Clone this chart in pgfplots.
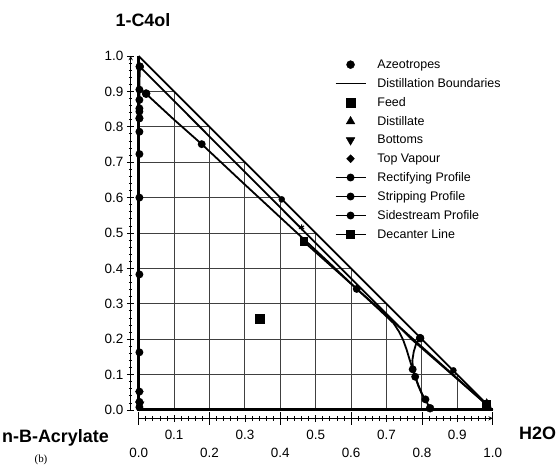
\documentclass[border=0pt]{standalone}
\usepackage{pgfplots}
\pgfplotsset{compat=1.18}
\usepackage{fontspec}
\setmainfont{Liberation Sans}
\newfontfamily\seriffont{Liberation Serif}

\begin{document}
\begin{tikzpicture}
\pgfplotsset{
  tern/.style={
    scale only axis, width=354bp, height=354bp,
    xmin=0, xmax=1, ymin=0, ymax=1,
    anchor=south west,
    clip=false,
    axis line style={-, line width=0.9bp},
    tick align=outside,
    tick style={line width=0.8bp, black},
    tick label style={font=\fontsize{13.5}{13.5}\selectfont,
      /pgf/number format/fixed, /pgf/number format/fixed zerofill,
      /pgf/number format/precision=1,
      /pgf/number format/assume math mode=true},
  },
  prof/.style={black, line width=1.8bp, mark=*, mark size=3bp, mark options={solid, fill=black}},
}
% x axis, set 8.3bp below the triangle: ticks and two rows of labels
\begin{axis}[tern, at={(0bp,-8.3bp)},
  axis y line=none, axis x line=bottom,
  xtick={0,0.2,0.4,0.6,0.8,1.0},
  extra x ticks={0.1,0.3,0.5,0.7,0.9},
  minor x tick num=9,
  major tick length=13bp, minor tick length=4.5bp,
  xticklabel style={yshift=-19.5bp},
  extra x tick style={major tick length=7.5bp,
    xticklabel style={yshift=15bp}},
]
\end{axis}
% main axis: y ticks, frame, grid and data
\begin{axis}[tern, at={(0bp,0bp)},
  axis x line=none, axis y line=left, axis y line shift=8bp,
  ytick={0,0.1,0.2,0.3,0.4,0.5,0.6,0.7,0.8,0.9,1.0},
  minor y tick num=4,
  major tick length=7.5bp, minor tick length=3.5bp,
  legend image code/.code={\draw[mark repeat=2,mark phase=2,#1] plot coordinates {(0bp,0bp) (15bp,0bp) (30bp,0bp)};},
  legend style={draw=none, fill=none, at={(axis cs:0.553,0.996)}, anchor=north west,
    inner sep=0pt, font=\fontsize{12.5}{14}\selectfont, row sep=4.5bp,
    /tikz/every odd column/.append style={column sep=9bp}},
  legend cell align=left,
]
% grid inside the triangle
\addplot[forget plot, black!75, line width=0.9bp] coordinates {(0,0.1) (0.9,0.1)};
\addplot[forget plot, black!75, line width=0.9bp] coordinates {(0,0.2) (0.8,0.2)};
\addplot[forget plot, black!75, line width=0.9bp] coordinates {(0,0.3) (0.7,0.3)};
\addplot[forget plot, black!75, line width=0.9bp] coordinates {(0,0.4) (0.6,0.4)};
\addplot[forget plot, black!75, line width=0.9bp] coordinates {(0,0.5) (0.5,0.5)};
\addplot[forget plot, black!75, line width=0.9bp] coordinates {(0,0.6) (0.4,0.6)};
\addplot[forget plot, black!75, line width=0.9bp] coordinates {(0,0.7) (0.3,0.7)};
\addplot[forget plot, black!75, line width=0.9bp] coordinates {(0,0.8) (0.2,0.8)};
\addplot[forget plot, black!75, line width=0.9bp] coordinates {(0,0.9) (0.1,0.9)};
\addplot[forget plot, black!75, line width=0.9bp] coordinates {(0.1,0) (0.1,0.9)};
\addplot[forget plot, black!75, line width=0.9bp] coordinates {(0.2,0) (0.2,0.8)};
\addplot[forget plot, black!75, line width=0.9bp] coordinates {(0.3,0) (0.3,0.7)};
\addplot[forget plot, black!75, line width=0.9bp] coordinates {(0.4,0) (0.4,0.6)};
\addplot[forget plot, black!75, line width=0.9bp] coordinates {(0.5,0) (0.5,0.5)};
\addplot[forget plot, black!75, line width=0.9bp] coordinates {(0.6,0) (0.6,0.4)};
\addplot[forget plot, black!75, line width=0.9bp] coordinates {(0.7,0) (0.7,0.3)};
\addplot[forget plot, black!75, line width=0.9bp] coordinates {(0.8,0) (0.8,0.2)};
\addplot[forget plot, black!75, line width=0.9bp] coordinates {(0.9,0) (0.9,0.1)};
% triangle frame
\addplot[forget plot, black, line width=3bp] coordinates {(0,1) (0,0) (1,0)};
\addplot[forget plot, black, line width=1.8bp] coordinates {(0,1) (1,0)};

% legend series
\addplot[black, only marks, mark=*, mark size=4bp] coordinates {
  (0.003,0.970) (0.021,0.894) (0.795,0.203) (0.983,0.015) (0.823,0.005)};
\addlegendentry{Azeotropes}
\addplot[black, line width=1.8bp] coordinates {
  (0.003,0.970) (0.773,0.198) (0.983,0.015)};
\addlegendentry{Distillation Boundaries}
\addplot[black, only marks, mark=square*, mark size=4.5bp] coordinates {(0.341,0.259)};
\addlegendentry{Feed}
\addplot[black, only marks, mark=triangle*, mark size=5bp] coordinates {(0.983,0.018)};
\addlegendentry{Distillate}
\addplot[black, only marks, mark=triangle*, mark size=5bp, mark options={rotate=180}] coordinates {(0.003,0.016)};
\addlegendentry{Bottoms}
\addplot[black, only marks, mark=diamond*, mark size=4bp, mark options={xscale=1.3}] coordinates {(0.002,0.052)};
\addlegendentry{Top Vapour}
\addplot[prof] coordinates {
  (0.003,0.970) (0.002,0.905) (0.002,0.876) (0.002,0.852) (0.002,0.843) (0.002,0.824)};
\addlegendentry{Rectifying Profile}
\addplot[prof] coordinates {
  (0.002,0.824) (0.002,0.786) (0.002,0.723) (0.002,0.600) (0.002,0.383)
  (0.002,0.163) (0.002,0.052) (0.002,0.023) (0.002,0.008)};
\addlegendentry{Stripping Profile}
\addplot[prof, mark indices={1,3,8,15,16}, legend image post style={mark indices={2}}] coordinates {
  (0.021,0.893) (0.100,0.820) (0.178,0.751) (0.290,0.646) (0.400,0.544)
  (0.467,0.482) (0.540,0.414) (0.616,0.342) (0.680,0.283) (0.720,0.245)
  (0.735,0.222) (0.747,0.198) (0.757,0.170) (0.766,0.140) (0.774,0.115)
  (0.781,0.094) (0.792,0.065) (0.803,0.040) (0.812,0.025) (0.823,0.005)};
\addlegendentry{Sidestream Profile}
\addplot[black, line width=1.8bp, mark=square*, mark size=3.5bp] coordinates {
  (0.467,0.475) (0.983,0.015)};
\addlegendentry{Decanter Line}
% second branch near the water corner and points on the edge
\addplot[prof, forget plot, mark indices={1,9}] coordinates {
  (0.795,0.203) (0.784,0.188) (0.777,0.165) (0.773,0.140) (0.775,0.115)
  (0.781,0.094) (0.790,0.068) (0.800,0.045) (0.810,0.030)};
\addplot[black, only marks, forget plot, mark=*, mark size=3bp] coordinates {
  (0.404,0.595) (0.889,0.112)};
\addplot[black, only marks, forget plot, mark=asterisk, mark size=3bp, line width=1bp] coordinates {
  (0.460,0.516) (0.781,0.094)};
\end{axis}
\node[font=\bfseries\fontsize{18}{18}\selectfont, anchor=base] at (4.3bp,383bp) {1-C4ol};
\node[font=\bfseries\fontsize{18}{18}\selectfont, anchor=base west, inner sep=0pt] at (-136.7bp,-33bp) {n-B-Acrylate};
\node[font=\bfseries\fontsize{18}{18}\selectfont, anchor=base west, inner sep=0pt] at (380.3bp,-30bp) {H2O};
\node[font=\seriffont\fontsize{11}{11}\selectfont, anchor=base, inner sep=0pt] at (-97.7bp,-53bp) {(b)};
\path[use as bounding box] (-138.7bp,-55bp) rectangle (419.3bp,410bp);
\end{tikzpicture}
\end{document}
